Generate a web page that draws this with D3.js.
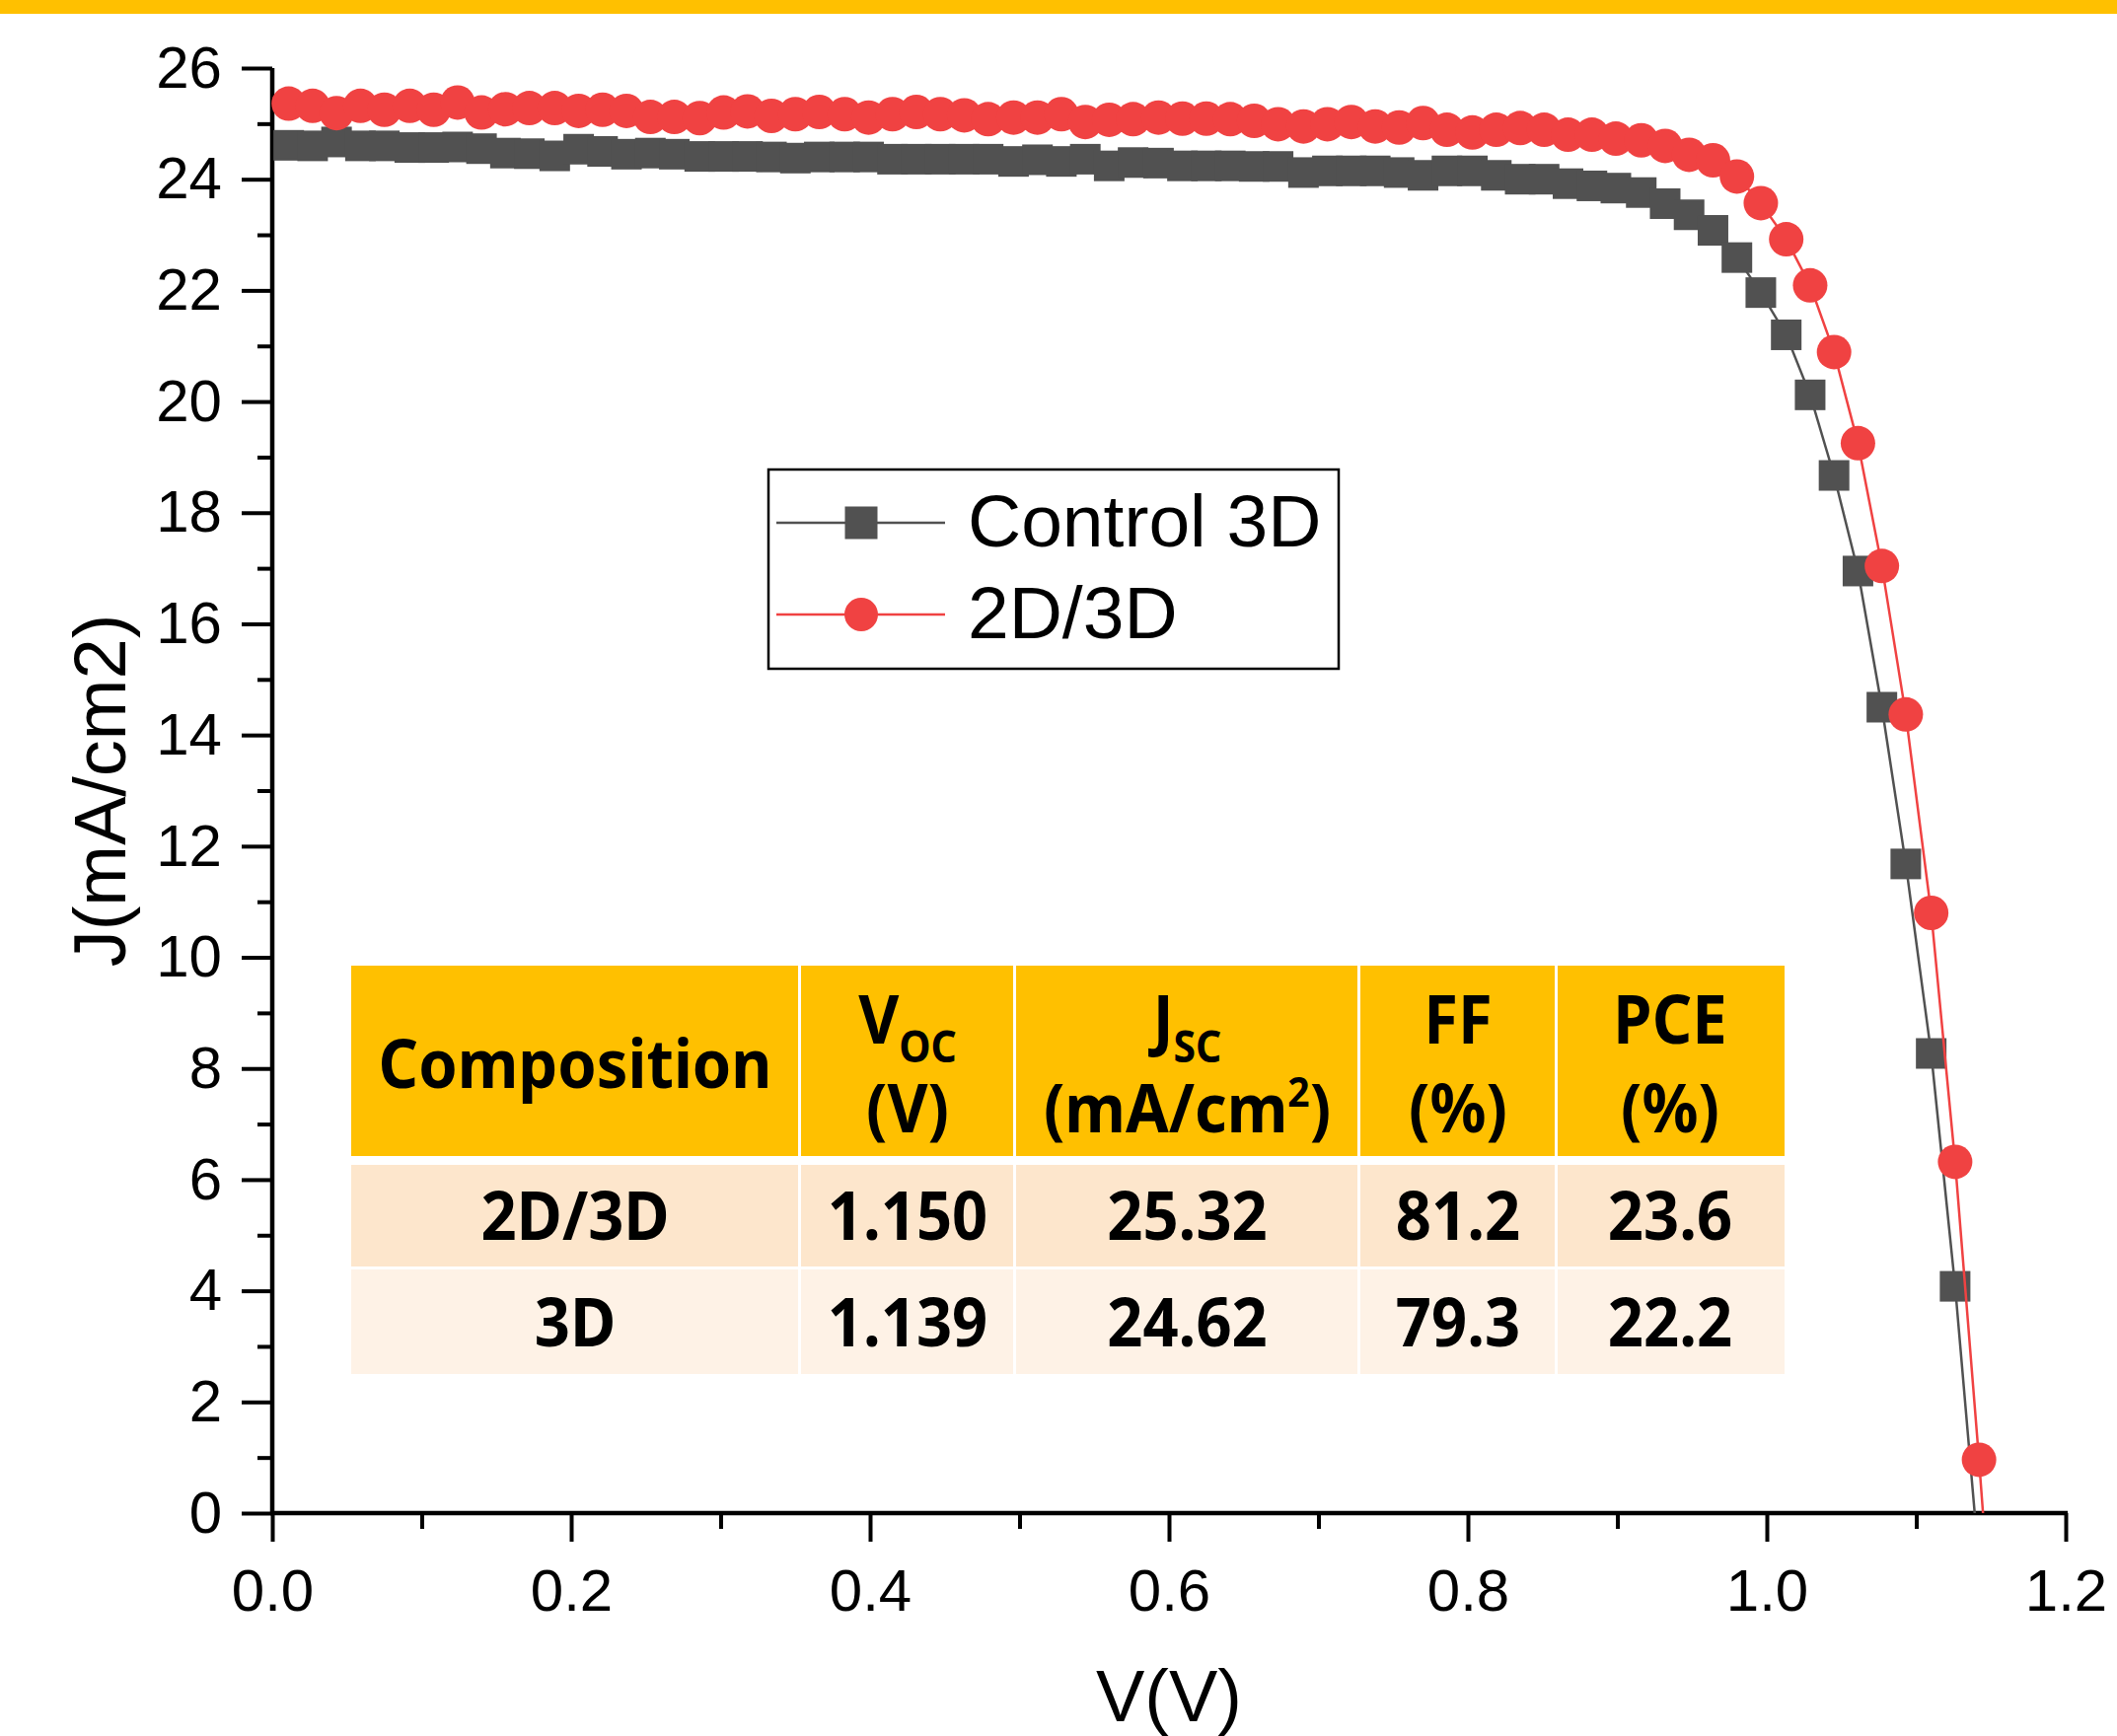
<!DOCTYPE html>
<html>
<head>
<meta charset="utf-8">
<script src="https://cdn.jsdelivr.net/npm/d3@7"></script>
<style>
  body { margin: 0; background: #fff; }
  svg { display: block; }
</style>
</head>
<body>
<div id="chart"></div>
<script>
// Voltage sweep (V) shared by both curves
const voltage = [
  0.011, 0.027, 0.043, 0.059, 0.075, 0.092, 0.108, 0.124, 0.140, 0.156,
  0.172, 0.189, 0.205, 0.221, 0.237, 0.253, 0.269, 0.286, 0.302, 0.318,
  0.334, 0.350, 0.366, 0.383, 0.399, 0.415, 0.431, 0.447, 0.463, 0.479,
  0.496, 0.512, 0.528, 0.544, 0.560, 0.576, 0.593, 0.609, 0.625, 0.641,
  0.657, 0.673, 0.690, 0.706, 0.722, 0.738, 0.754, 0.770, 0.786, 0.803,
  0.819, 0.835, 0.851, 0.867, 0.883, 0.899, 0.916, 0.932, 0.948, 0.964,
  0.980, 0.996, 1.013, 1.029, 1.045, 1.061, 1.077, 1.093, 1.110, 1.126,
  1.142, 1.158
];

// Current density (mA/cm2), Control 3D
const jControl = [
  24.61, 24.60, 24.67, 24.60, 24.60, 24.57, 24.57, 24.58, 24.55, 24.47,
  24.46, 24.42, 24.54, 24.50, 24.45, 24.47, 24.45, 24.41, 24.41, 24.41,
  24.40, 24.38, 24.40, 24.40, 24.40, 24.36, 24.36, 24.36, 24.36, 24.36,
  24.32, 24.35, 24.32, 24.36, 24.24, 24.30, 24.29, 24.24, 24.24, 24.24,
  24.23, 24.23, 24.12, 24.15, 24.15, 24.15, 24.12, 24.07, 24.15, 24.15,
  24.07, 24.00, 24.00, 23.92, 23.88, 23.84, 23.76, 23.56, 23.36, 23.08,
  22.59, 21.96, 21.20, 20.12, 18.67, 16.95, 14.50, 11.68, 8.27, 4.08,
  -0.90
];

// Current density (mA/cm2), 2D/3D
const j2D3D = [
  25.36, 25.32, 25.19, 25.32, 25.25, 25.32, 25.25, 25.38, 25.20, 25.26,
  25.28, 25.28, 25.23, 25.25, 25.23, 25.12, 25.12, 25.10, 25.20, 25.22,
  25.14, 25.17, 25.21, 25.17, 25.11, 25.17, 25.21, 25.17, 25.15, 25.08,
  25.11, 25.11, 25.17, 25.03, 25.07, 25.08, 25.11, 25.09, 25.09, 25.08,
  25.05, 24.99, 24.95, 24.99, 25.03, 24.95, 24.93, 25.01, 24.89, 24.84,
  24.89, 24.92, 24.89, 24.80, 24.80, 24.73, 24.70, 24.60, 24.44, 24.34,
  24.05, 23.57, 22.92, 22.09, 20.89, 19.25, 17.04, 14.37, 10.80, 6.32,
  0.96, -4.80
];

const seriesNames = ["Control 3D", "2D/3D"];
const xTicks = [0.0, 0.2, 0.4, 0.6, 0.8, 1.0, 1.2];
const xMinorTicks = [0.1, 0.3, 0.5, 0.7, 0.9, 1.1];
const yTicks = [0, 2, 4, 6, 8, 10, 12, 14, 16, 18, 20, 22, 24, 26];
const yMinorTicks = [1, 3, 5, 7, 9, 11, 13, 15, 17, 19, 21, 23, 25];

// Table contents
const tableHeader = [
  { main: "Composition" },
  { main: "V", sub: "OC", unit: "(V)" },
  { main: "J", sub: "SC", unit: "(mA/cm", sup: "2", end: ")" },
  { main: "FF", unit: "(%)" },
  { main: "PCE", unit: "(%)" }
];
const tableRows = [
  ["2D/3D", "1.150", "25.32", "81.2", "23.6"],
  ["3D", "1.139", "24.62", "79.3", "22.2"]
];

const W = 2146, H = 1760;
const axisFont = "'Liberation Sans', Arial, sans-serif";
const tableFont = "'Noto Sans', 'Open Sans', sans-serif";
const gray = "#515151", red = "#f04242", gold = "#ffc000";

const svg = d3.select("#chart")
    .append("svg")
    .attr("width", W)
    .attr("height", H);

svg.append("rect").attr("width", W).attr("height", H).attr("fill", "#fff");
// gold band along the top edge
svg.append("rect").attr("width", W).attr("height", 14).attr("fill", gold);

// scales
const x = d3.scaleLinear().domain([0, 1.2]).range([276, 2094]);
const y = d3.scaleLinear().domain([0, 26]).range([1534, 69]);

// clip the connecting lines to the plot area
svg.append("clipPath").attr("id", "plotClip")
  .append("rect")
    .attr("x", x(0)).attr("y", y(26))
    .attr("width", x(1.2) - x(0)).attr("height", y(0) - y(26));

// ---- table (drawn under the data) ----
const colEdges = [356, 812, 1030, 1379, 1579, 1809];
const headTop = 979, headBottom = 1172;
const rowEdges = [[1181, 1284], [1287, 1393]];
const rowFill = ["#fde6cc", "#fef2e6"];
const table = svg.append("g").attr("class", "table");

colEdges.slice(0, -1).forEach((x0, i) => {
  const w = colEdges[i + 1] - x0 - (i < 4 ? 3 : 0);
  table.append("rect")
      .attr("x", x0).attr("y", headTop)
      .attr("width", w).attr("height", headBottom - headTop)
      .attr("fill", gold);
  rowEdges.forEach((r, ri) => {
    table.append("rect")
        .attr("x", x0).attr("y", r[0])
        .attr("width", w).attr("height", r[1] - r[0])
        .attr("fill", rowFill[ri]);
  });
});

// helper: bold, slightly condensed table text centred at cx
function tableText(cx, baseline) {
  return table.append("text")
      .attr("transform", `translate(${cx},${baseline}) scale(0.93,1)`)
      .attr("text-anchor", "middle")
      .style("font-family", tableFont)
      .style("font-weight", 700)
      .style("font-size", "68px")
      .style("fill", "#000");
}

tableHeader.forEach((h, i) => {
  const cx = (colEdges[i] + colEdges[i + 1]) / 2 - 1;
  if (!h.unit) {
    tableText(cx, 1103).text(h.main);
    return;
  }
  const t1 = tableText(cx, 1058);
  t1.append("tspan").text(h.main);
  if (h.sub) {
    t1.append("tspan").attr("dy", 19).style("font-size", "44px").text(h.sub);
  }
  const t2 = tableText(cx, 1148);
  t2.append("tspan").text(h.unit);
  if (h.sup) {
    t2.append("tspan").attr("dy", -26).style("font-size", "42px").text(h.sup);
    t2.append("tspan").attr("dy", 26).text(h.end);
  }
});

const rowBase = [1257, 1365];
tableRows.forEach((row, ri) => {
  row.forEach((cell, i) => {
    const cx = (colEdges[i] + colEdges[i + 1]) / 2 - 1;
    tableText(cx, rowBase[ri]).text(cell);
  });
});

// ---- axes ----
const axisStyle = g => {
  g.select(".domain").remove();
  g.selectAll(".tick line").attr("stroke", "#000").attr("stroke-width", 4);
  g.selectAll(".tick text")
      .style("font-family", axisFont)
      .style("font-size", "60px")
      .attr("fill", "#000");
};

svg.append("g")
    .attr("transform", `translate(${x(0)},0)`)
    .call(d3.axisLeft(y).tickValues(yMinorTicks).tickSize(15).tickFormat(""))
    .call(axisStyle);

svg.append("g")
    .attr("transform", `translate(${x(0)},0)`)
    .call(d3.axisLeft(y).tickValues(yTicks).tickSize(31).tickPadding(20).tickFormat(d3.format("d")))
    .call(axisStyle);

svg.append("g")
    .attr("transform", `translate(0,${y(0)})`)
    .call(d3.axisBottom(x).tickValues(xMinorTicks).tickSize(16).tickFormat(""))
    .call(axisStyle);

svg.append("g")
    .attr("transform", `translate(0,${y(0)})`)
    .call(d3.axisBottom(x).tickValues(xTicks).tickSize(29).tickPadding(27).tickFormat(d3.format(".1f")))
    .call(axisStyle);

// axis lines
svg.append("line")
    .attr("x1", x(0)).attr("x2", x(0))
    .attr("y1", y(26)).attr("y2", y(0) + 2)
    .attr("stroke", "#000").attr("stroke-width", 4.5);
svg.append("line")
    .attr("x1", x(0) - 2).attr("x2", x(1.2) + 2)
    .attr("y1", y(0)).attr("y2", y(0))
    .attr("stroke", "#000").attr("stroke-width", 4.5);

// axis titles
svg.append("text")
    .attr("x", (x(0) + x(1.2)) / 2)
    .attr("y", 1745)
    .attr("text-anchor", "middle")
    .style("font-family", axisFont)
    .style("font-size", "74px")
    .text("V(V)");

svg.append("text")
    .attr("transform", `translate(127,${(y(0) + y(26)) / 2}) rotate(-90)`)
    .attr("text-anchor", "middle")
    .style("font-family", axisFont)
    .style("font-size", "74px")
    .text("J(mA/cm2)");

// ---- data ----
const series = [
  { name: seriesNames[0], j: jControl, color: gray, shape: "square" },
  { name: seriesNames[1], j: j2D3D, color: red, shape: "circle" }
];

const line = d3.line()
    .x(d => x(d[0]))
    .y(d => y(d[1]));

series.forEach(s => {
  const pts = s.j.map((v, i) => [voltage[i], v]);
  const g = svg.append("g").attr("class", "series");

  g.append("path")
      .datum(pts)
      .attr("clip-path", "url(#plotClip)")
      .attr("fill", "none")
      .attr("stroke", s.color)
      .attr("stroke-width", 2.5)
      .attr("d", line);

  // markers only where the point lies inside the axis range
  const inside = pts.filter(d => d[1] >= 0 && d[1] <= 26);
  if (s.shape === "square") {
    g.selectAll("rect")
        .data(inside)
        .enter()
        .append("rect")
        .attr("x", d => x(d[0]) - 15.5)
        .attr("y", d => y(d[1]) - 15.5)
        .attr("width", 31)
        .attr("height", 31)
        .attr("fill", s.color);
  } else {
    g.selectAll("circle")
        .data(inside)
        .enter()
        .append("circle")
        .attr("cx", d => x(d[0]))
        .attr("cy", d => y(d[1]))
        .attr("r", 17.5)
        .attr("fill", s.color);
  }
});

// ---- legend ----
const legend = svg.append("g").attr("class", "legend");
legend.append("rect")
    .attr("x", 779).attr("y", 476)
    .attr("width", 578).attr("height", 202)
    .attr("fill", "#fff")
    .attr("stroke", "#000")
    .attr("stroke-width", 2.5);

const legendRows = [530, 623];
series.forEach((s, i) => {
  const ly = legendRows[i];
  legend.append("line")
      .attr("x1", 787).attr("x2", 958)
      .attr("y1", ly).attr("y2", ly)
      .attr("stroke", s.color)
      .attr("stroke-width", 2.5);
  if (s.shape === "square") {
    legend.append("rect")
        .attr("x", 873 - 16.5).attr("y", ly - 16.5)
        .attr("width", 33).attr("height", 33)
        .attr("fill", s.color);
  } else {
    legend.append("circle")
        .attr("cx", 873).attr("cy", ly)
        .attr("r", 17)
        .attr("fill", s.color);
  }
  legend.append("text")
      .attr("x", 981)
      .attr("y", ly + 24)
      .style("font-family", axisFont)
      .style("font-size", "75px")
      .text(s.name);
});
</script>
</body>
</html>
